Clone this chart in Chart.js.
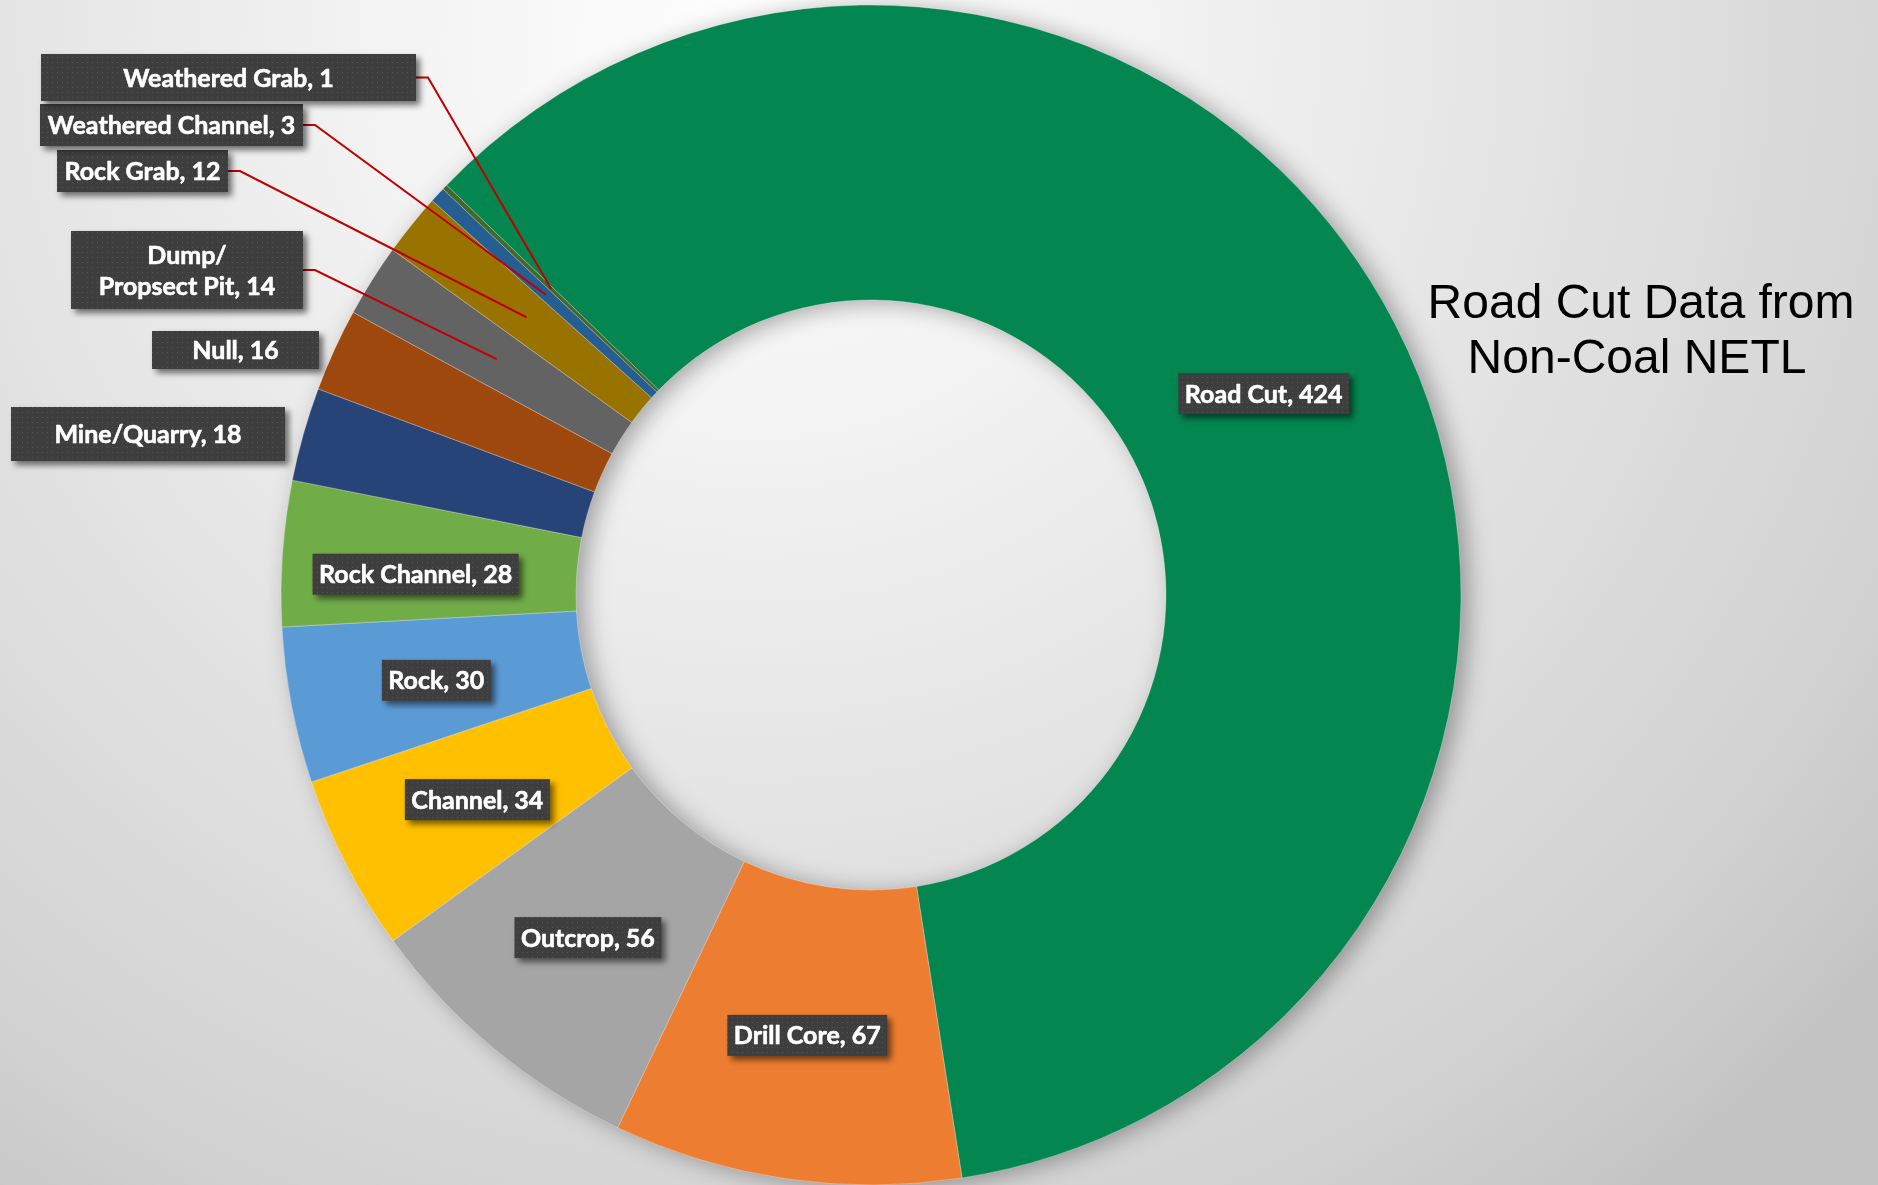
<!DOCTYPE html>
<html lang="en">
<head>
  <meta charset="UTF-8">
  <title>Road Cut Data from Non-Coal NETL</title>
  <script src="https://cdn.jsdelivr.net/npm/chart.js@4.4.0/dist/chart.umd.min.js"></script>
  <style>
    html, body { margin: 0; padding: 0; overflow: hidden; background: #e6e6e6; }
    canvas { display: block; }
  </style>
</head>
<body>
  <canvas id="sampleChart" width="1878" height="1185"></canvas>

  <script>
    // sample counts by collection type
    const sampleTypes = ['Road Cut', 'Drill Core', 'Outcrop', 'Channel', 'Rock', 'Rock Channel',
      'Mine/Quarry', 'Null', 'Dump/\nPropsect Pit', 'Rock Grab', 'Weathered Channel', 'Weathered Grab'];
    const sampleCounts = [424, 67, 56, 34, 30, 28, 18, 16, 14, 12, 3, 1];
    const sliceColors = ['#038650', '#ED7D31', '#A5A5A5', '#FFC000', '#5B9BD5', '#70AD47',
      '#264478', '#9E480E', '#636363', '#997300', '#255E91', '#43682B'];
    const titleLines = ['Road Cut Data from', 'Non-Coal NETL'];

    // small slices get their label box pulled out to the left (index -> box)
    const outsideBoxes = {
      11: { x: 41, y: 54, w: 375, h: 47, leader: true },
      10: { x: 40, y: 104, w: 263, h: 42, leader: true },
      9:  { x: 57, y: 150, w: 171, h: 42, leader: true },
      8:  { x: 71, y: 231, w: 232, h: 78, leader: true },
      7:  { x: 152, y: 331, w: 167, h: 38 },
      6:  { x: 11, y: 407, w: 274, h: 54 }
    };
    // hand-moved labels inside the ring (index -> [dx, dy])
    const labelNudge = { 5: [-14, 8] };

    const LABEL_FONT = 'bold 25px Lato, "Open Sans", sans-serif';

    function dotPattern(ctx) {
      const tile = document.createElement('canvas');
      tile.width = 5; tile.height = 5;
      const t = tile.getContext('2d');
      t.fillStyle = '#3e3e3e';
      t.fillRect(0, 0, 5, 5);
      t.fillStyle = '#555555';
      t.fillRect(2, 2, 1, 1);
      return ctx.createPattern(tile, 'repeat');
    }

    function drawBox(ctx, x, y, w, h, fill) {
      ctx.save();
      ctx.shadowColor = 'rgba(0,0,0,0.55)';
      ctx.shadowBlur = 6;
      ctx.shadowOffsetX = 4;
      ctx.shadowOffsetY = 4;
      ctx.fillStyle = fill;
      ctx.fillRect(x, y, w, h);
      ctx.restore();
    }

    const decor = {
      id: 'decor',
      beforeDraw(chart) {
        const ctx = chart.ctx;
        const g = ctx.createRadialGradient(760, 40, 0, 760, 40, 1450);
        g.addColorStop(0, '#ffffff');
        g.addColorStop(0.3, '#f1f1f1');
        g.addColorStop(0.6, '#e0e0e0');
        g.addColorStop(0.85, '#d2d2d2');
        g.addColorStop(1, '#c4c4c4');
        ctx.save();
        ctx.fillStyle = g;
        ctx.fillRect(0, 0, chart.width, chart.height);
        ctx.restore();
      },
      beforeDatasetsDraw(chart) {
        // soft shadow under the whole ring
        const arc = chart.getDatasetMeta(0).data[0];
        const { x, y, outerRadius, innerRadius } = arc.getProps(['x', 'y', 'outerRadius', 'innerRadius'], true);
        const ctx = chart.ctx;
        ctx.save();
        ctx.shadowColor = 'rgba(0,0,0,0.35)';
        ctx.shadowBlur = 24;
        ctx.shadowOffsetX = 8;
        ctx.shadowOffsetY = 3;
        ctx.fillStyle = '#7a7a7a';
        ctx.beginPath();
        ctx.arc(x, y, outerRadius - 1, 0, Math.PI * 2);
        ctx.arc(x, y, innerRadius + 1, 0, Math.PI * 2, true);
        ctx.fill();
        ctx.restore();
      },
      afterDatasetsDraw(chart) {
        const ctx = chart.ctx;
        const meta = chart.getDatasetMeta(0);
        const fill = dotPattern(ctx);

        // title on the right
        ctx.save();
        ctx.fillStyle = '#000000';
        ctx.font = '48px "Liberation Sans", Arial, sans-serif';
        ctx.textAlign = 'center';
        ctx.textBaseline = 'alphabetic';
        ctx.fillText(titleLines[0], 1641, 318);
        ctx.fillText(titleLines[1], 1637, 373);
        ctx.restore();

        // leader lines first, boxes on top
        ctx.save();
        ctx.strokeStyle = '#C00000';
        ctx.lineWidth = 2;
        meta.data.forEach((arc, i) => {
          const box = outsideBoxes[i];
          if (!box || !box.leader) return;
          const p = arc.getCenterPoint();
          const sy = box.y + box.h / 2;
          ctx.beginPath();
          ctx.moveTo(box.x + box.w, sy);
          ctx.lineTo(box.x + box.w + 12, sy);
          ctx.lineTo(p.x, p.y);
          ctx.stroke();
        });
        ctx.restore();

        ctx.save();
        ctx.font = LABEL_FONT;
        ctx.textAlign = 'center';
        ctx.textBaseline = 'middle';
        ctx.lineJoin = 'round';
        meta.data.forEach((arc, i) => {
          const lines = (sampleTypes[i] + ', ' + sampleCounts[i]).split('\n');
          let box = outsideBoxes[i];
          if (!box) {
            const p = arc.getCenterPoint();
            const [dx, dy] = labelNudge[i] || [0, 0];
            const w = ctx.measureText(lines[0]).width + 13;
            box = { x: p.x + dx - w / 2, y: p.y + dy - 18, w: w, h: 41 };
          }
          drawBox(ctx, box.x, box.y, box.w, box.h, fill);
          ctx.fillStyle = '#ffffff';
          ctx.strokeStyle = '#ffffff';
          ctx.lineWidth = 0.6;
          const cx = box.x + box.w / 2;
          const cy = box.y + box.h / 2;
          const step = 31;
          lines.forEach((ln, k) => {
            const ty = cy + (k - (lines.length - 1) / 2) * step + 1;
            ctx.fillText(ln, cx, ty);
            ctx.strokeText(ln, cx, ty);
          });
        });
        ctx.restore();
      }
    };

    const ctx = document.getElementById('sampleChart').getContext('2d');
    new Chart(ctx, {
      type: 'doughnut',
      data: {
        labels: sampleTypes,
        datasets: [{
          data: sampleCounts,
          backgroundColor: sliceColors,
          borderColor: 'rgba(255,255,255,0.3)',
          borderWidth: 1,
          radius: 590,
          cutout: '50%'
        }]
      },
      options: {
        responsive: false,
        animation: false,
        rotation: -46,
        layout: { padding: { left: 0, right: 136, top: 5, bottom: 0 } },
        plugins: {
          legend: { display: false },
          tooltip: { enabled: false }
        }
      },
      plugins: [decor]
    });
  </script>
</body>
</html>
